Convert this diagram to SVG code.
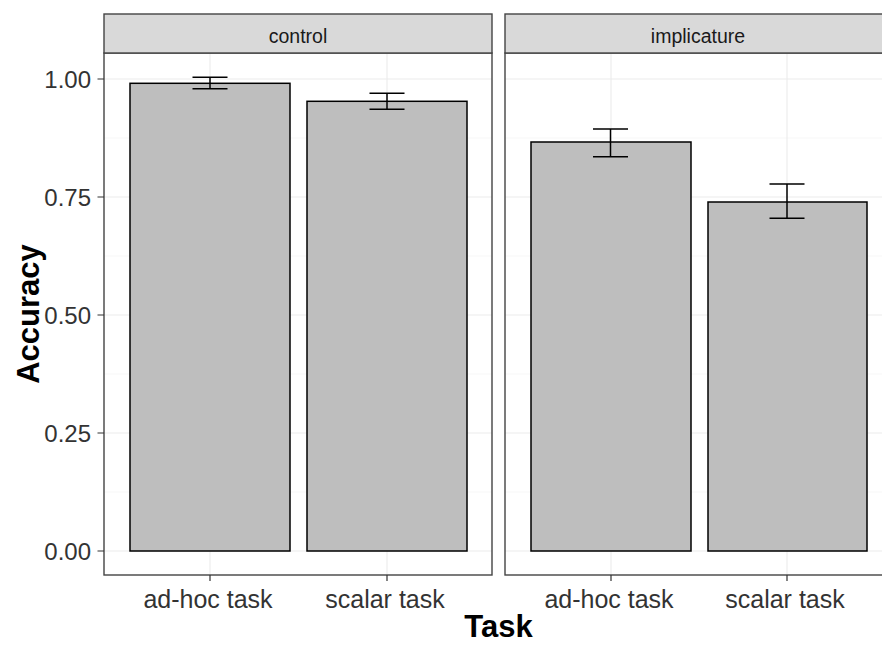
<svg xmlns="http://www.w3.org/2000/svg" width="882" height="646" viewBox="0 0 882 646">
  <style>
    .bg { fill: #ffffff; }
    .grid-major { stroke: #ebebeb; stroke-width: 1.1; fill: none; }
    .grid-minor { stroke: #f2f2f2; stroke-width: 0.6; fill: none; }
    .frame { fill: none; stroke: #444444; stroke-width: 1.4; }
    .strip { fill: #d9d9d9; stroke: #444444; stroke-width: 1.4; }
    .strip-text { font-family: "Liberation Sans", Arial, sans-serif; font-size: 19.5px; fill: #1a1a1a; text-anchor: middle; }
    .bar { fill: #bebebe; stroke: #000000; stroke-width: 1.5; }
    .err { stroke: #000000; stroke-width: 1.5; fill: none; }
    .tick { stroke: #333333; stroke-width: 1.2; }
    .ylab { font-family: "Liberation Sans", Arial, sans-serif; font-size: 24px; fill: #333333; text-anchor: end; }
    .xlab { font-family: "Liberation Sans", Arial, sans-serif; font-size: 25px; fill: #333333; text-anchor: middle; }
    .title { font-family: "Liberation Sans", Arial, sans-serif; font-size: 31px; font-weight: bold; fill: #000000; text-anchor: middle; }
  </style>

  <rect class="bg" x="0" y="0" width="882" height="646"/>

  <!-- Facet: control -->
  <g id="panel-control">
    <rect class="bg" x="104" y="53" width="388" height="522"/>
    <g>
      <line class="grid-minor" x1="104" x2="492" y1="492" y2="492"/>
      <line class="grid-minor" x1="104" x2="492" y1="374" y2="374"/>
      <line class="grid-minor" x1="104" x2="492" y1="256" y2="256"/>
      <line class="grid-minor" x1="104" x2="492" y1="138" y2="138"/>
      <line class="grid-major" x1="104" x2="492" y1="551" y2="551"/>
      <line class="grid-major" x1="104" x2="492" y1="433" y2="433"/>
      <line class="grid-major" x1="104" x2="492" y1="315" y2="315"/>
      <line class="grid-major" x1="104" x2="492" y1="197" y2="197"/>
      <line class="grid-major" x1="104" x2="492" y1="79" y2="79"/>
      <line class="grid-major" x1="210" x2="210" y1="53" y2="575"/>
      <line class="grid-major" x1="387" x2="387" y1="53" y2="575"/>
    </g>
    <rect class="bar" x="130" y="83.3" width="160" height="467.7"/>
    <rect class="bar" x="307" y="101.3" width="160" height="449.7"/>
    <path class="err" d="M192.5 77.3H227.5M192.5 88.7H227.5M210 77.3V88.7"/>
    <path class="err" d="M369.5 93.3H404.5M369.5 109.3H404.5M387 93.3V109.3"/>
    <rect class="frame" x="104" y="53" width="388" height="522"/>
    <rect class="strip" x="104" y="14" width="388" height="39"/>
    <text class="strip-text" x="298" y="42.5">control</text>
  </g>

  <!-- Facet: implicature -->
  <g id="panel-implicature">
    <rect class="bg" x="505" y="53" width="388" height="522"/>
    <g>
      <line class="grid-minor" x1="505" x2="893" y1="492" y2="492"/>
      <line class="grid-minor" x1="505" x2="893" y1="374" y2="374"/>
      <line class="grid-minor" x1="505" x2="893" y1="256" y2="256"/>
      <line class="grid-minor" x1="505" x2="893" y1="138" y2="138"/>
      <line class="grid-major" x1="505" x2="893" y1="551" y2="551"/>
      <line class="grid-major" x1="505" x2="893" y1="433" y2="433"/>
      <line class="grid-major" x1="505" x2="893" y1="315" y2="315"/>
      <line class="grid-major" x1="505" x2="893" y1="197" y2="197"/>
      <line class="grid-major" x1="505" x2="893" y1="79" y2="79"/>
      <line class="grid-major" x1="611" x2="611" y1="53" y2="575"/>
      <line class="grid-major" x1="787" x2="787" y1="53" y2="575"/>
    </g>
    <rect class="bar" x="531" y="142" width="160" height="409"/>
    <rect class="bar" x="708" y="202" width="159" height="349"/>
    <path class="err" d="M593 129H628M593 156.7H628M610.5 129V156.7"/>
    <path class="err" d="M769.5 184H804.5M769.5 218.3H804.5M787 184V218.3"/>
    <rect class="frame" x="505" y="53" width="388" height="522"/>
    <rect class="strip" x="505" y="14" width="388" height="39"/>
    <text class="strip-text" x="698" y="42.5">implicature</text>
  </g>

  <!-- Y axis -->
  <g id="axis-y">
    <path class="tick" d="M97.5 551H104M97.5 433H104M97.5 315H104M97.5 197H104M97.5 79H104"/>
    <text class="ylab" x="91" y="559.6">0.00</text>
    <text class="ylab" x="91" y="441.6">0.25</text>
    <text class="ylab" x="91" y="323.6">0.50</text>
    <text class="ylab" x="91" y="205.6">0.75</text>
    <text class="ylab" x="91" y="87.6">1.00</text>
    <text class="title" transform="translate(38.5 314) rotate(-90)">Accuracy</text>
  </g>

  <!-- X axis -->
  <g id="axis-x">
    <path class="tick" d="M210 575V581M387 575V581M611 575V581M787 575V581"/>
    <text class="xlab" x="208" y="608">ad-hoc task</text>
    <text class="xlab" x="385" y="608">scalar task</text>
    <text class="xlab" x="609" y="608">ad-hoc task</text>
    <text class="xlab" x="785" y="608">scalar task</text>
    <text class="title" x="498.5" y="637">Task</text>
  </g>
</svg>
